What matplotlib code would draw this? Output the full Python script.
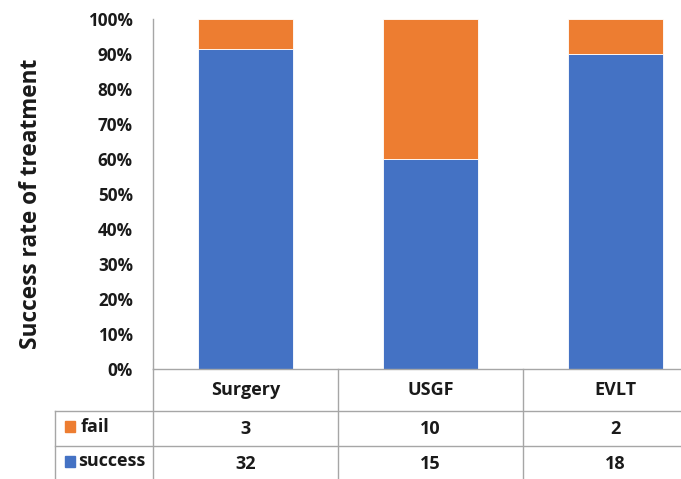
import matplotlib
matplotlib.use("Agg")
import matplotlib.pyplot as plt
import matplotlib.transforms as mtransforms
from matplotlib.patches import Rectangle
import numpy as np

categories = ["Surgery", "USGF", "EVLT"]
success = [32, 15, 18]
fail = [3, 10, 2]
series_names = ["fail", "success"]
tick_labels = ["0%", "10%", "20%", "30%", "40%", "50%", "60%", "70%", "80%", "90%", "100%"]

BLUE = "#4472C4"
ORANGE = "#ED7D31"
GRID = "#A6A6A6"
TXT = "#1a1a1a"

plt.rcParams["font.family"] = ["Open Sans", "DejaVu Sans"]
plt.rcParams["font.weight"] = "bold"

W, H = 681, 479
fig = plt.figure(figsize=(W / 100, H / 100), dpi=100)

# axes spans three category columns of ~185 px each; the last column runs past the right edge
left_px, top_px, bot_px, col_px = 153, 19, 369, 185
ax = fig.add_axes([left_px / W, (H - bot_px) / H, 3 * col_px / W, (bot_px - top_px) / H])

x = np.arange(len(categories))
tot = np.array(success) + np.array(fail)
s_frac = np.array(success) / tot
f_frac = np.array(fail) / tot

bw = 0.51
ax.bar(x, s_frac, bw, color=BLUE, edgecolor="white", linewidth=0.6)
ax.bar(x, f_frac, bw, bottom=s_frac, color=ORANGE, edgecolor="white", linewidth=0.6)

ax.set_xlim(-0.5, 2.5)
ax.set_ylim(0, 1)
ax.set_yticks(np.linspace(0, 1, 11))
ax.set_yticklabels(tick_labels, fontsize=12.3, fontweight="bold", color=TXT)
ax.tick_params(axis="y", length=0, pad=14.5)
ax.set_xticks([])
for s in ["top", "right"]:
    ax.spines[s].set_visible(False)
ax.spines["left"].set_color(GRID)
ax.spines["bottom"].set_color(GRID)
ax.spines["left"].set_linewidth(1.0)
ax.spines["bottom"].set_linewidth(1.0)

fig.text(31 / W, 1 - 204 / H, "Success rate of treatment", rotation=90,
         ha="center", va="center", fontsize=16.3, fontweight="bold", color=TXT)

# data table underneath, x in data units, y in axes fraction
tr = mtransforms.blended_transform_factory(ax.transData, ax.transAxes)
ph = bot_px - top_px
y_hdr = -(411 - bot_px) / ph
y_fail = -(446 - bot_px) / ph
y_succ = -(482 - bot_px) / ph
x_lab = -0.5 - (left_px - 55) / col_px

def line(xs, ys):
    ax.plot(xs, ys, transform=tr, color=GRID, lw=1.0, clip_on=False)

line([-0.5, -0.5], [0, y_succ])
for xv in [0.5, 1.5, 2.5]:
    line([xv, xv], [0, y_succ])
line([x_lab, 2.5], [y_hdr, y_hdr])
line([x_lab, 2.5], [y_fail, y_fail])
line([x_lab, 2.5], [y_succ, y_succ])
line([x_lab, x_lab], [y_hdr, y_succ])

fs = 13
for i, c in enumerate(categories):
    ax.text(i, (0 + y_hdr) / 2, c, transform=tr, ha="center", va="center",
            fontsize=fs, fontweight="bold", color=TXT)
    ax.text(i, (y_hdr + y_fail) / 2, str(fail[i]), transform=tr, ha="center",
            va="center", fontsize=fs, fontweight="bold", color=TXT)
    ax.text(i, (y_fail + y_succ) / 2, str(success[i]), transform=tr, ha="center",
            va="center", fontsize=fs, fontweight="bold", color=TXT)

# legend keys in the row labels (pixel-sized squares)
for name, col, ytop_px, text_px in [(series_names[0], ORANGE, 421, 81),
                                    (series_names[1], BLUE, 456, 78)]:
    fig.patches.append(Rectangle((65 / W, 1 - (ytop_px + 11) / H), 10 / W, 11 / H,
                                 transform=fig.transFigure, color=col))
    fig.text(text_px / W, 1 - (ytop_px + 5.5) / H, name, ha="left", va="center",
             fontsize=fs, fontweight="bold", color=TXT)

fig.savefig("out.png", dpi=100)
